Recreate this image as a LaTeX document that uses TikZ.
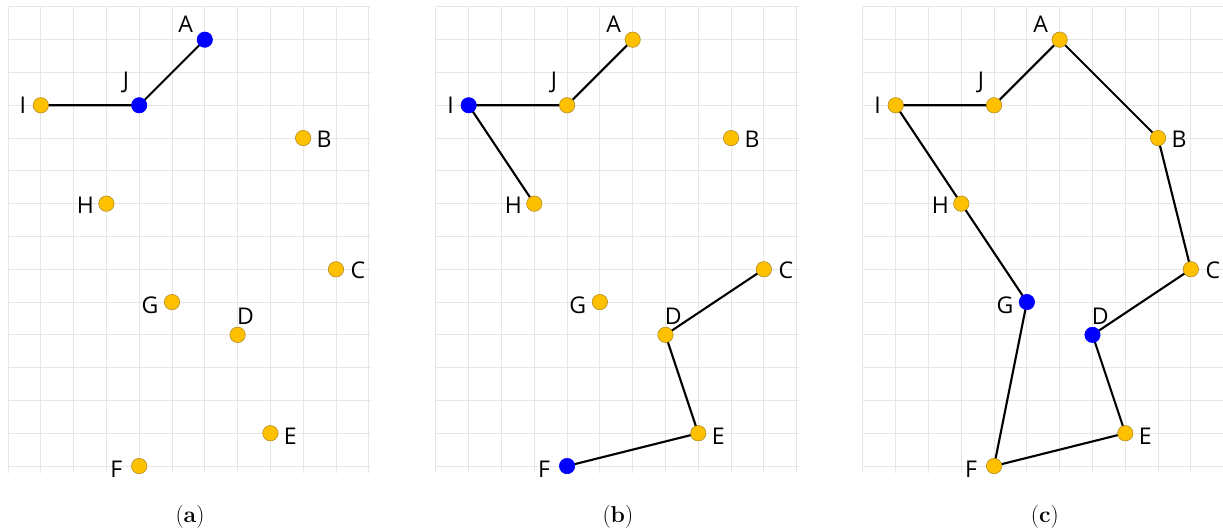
\documentclass[tikz,border=0pt]{standalone}
\usepackage{fontspec}
\newfontfamily\labelfont{Open Sans}
\usetikzlibrary{positioning}
\definecolor{gridgray}{HTML}{E6E6E6}
\definecolor{dotorange}{HTML}{FFC000}
\definecolor{dotedge}{HTML}{B08A20}
\definecolor{dotblue}{HTML}{0000FF}
% name/x/y/label dx/label dy, one cell = 1cm
\newcommand{\citylist}{A/6/13/-0.58/0.46, B/9/10/0.64/-0.03, C/10/6/0.67/-0.03,
  D/7/4/0.24/0.58, E/8/1/0.61/-0.09, F/4/0/-0.70/-0.09, G/5/5/-0.67/-0.09,
  H/3/8/-0.64/-0.06, I/1/11/-0.55/0, J/4/11/-0.40/0.70}
\tikzset{
  gridLine/.style={draw=gridgray, line width=0.7pt},
  tourEdge/.style={draw=black, line width=1.8pt, line join=round},
  cityDot/.style={circle, fill=dotorange, draw=dotedge, line width=0.5pt, inner sep=0pt, minimum size=0.47cm},
  visitDot/.style={cityDot, fill=dotblue, draw=dotblue},
  cityLabel/.style={font=\labelfont\fontsize{20}{24}\selectfont, inner sep=0pt},
  subCap/.style={font=\fontsize{20}{24}\selectfont},
  plainDot/.style={dot #1/.style={cityDot}},
  plainDot/.list={A,B,C,D,E,F,G,H,I,J},
  visited/.style={dot #1/.style={visitDot}}
}
\newcommand{\citypoints}{%
  \draw[gridLine, step=1] (0,-0.2) grid (11.06,14);
  \foreach \n/\x/\y/\dx/\dy in \citylist {\coordinate (\n) at (\x,\y);}}
\newcommand{\citydots}{%
  \foreach \n/\x/\y/\dx/\dy in \citylist {
    \node[dot \n] (\n dot) at (\n) {};
    \node[cityLabel] (\n lab) at ([shift={(\dx,\dy)}]\n) {\n};
  }}

\begin{document}
\begin{tikzpicture}[x=1cm,y=1cm]
  \useasboundingbox (0,0) rectangle (37.29,16.13);
  % (a)
  \begin{scope}[shift={(0.244,1.92)}, name prefix=pa-, visited/.list={A,J}]
    \citypoints
    \draw[tourEdge] (I) -- (J) -- (A);
    \citydots
    \node[subCap] (cap) at (5.55,-1.55) {(\textbf{a})};
  \end{scope}
  % (b)
  \begin{scope}[shift={(13.29,1.92)}, name prefix=pb-, visited/.list={I,F}]
    \citypoints
    \draw[tourEdge] (A) -- (J) -- (I) -- (H);
    \draw[tourEdge] (C) -- (D) -- (E) -- (F);
    \citydots
    \node[subCap] (cap) at (5.55,-1.55) {(\textbf{b})};
  \end{scope}
  % (c)
  \begin{scope}[shift={(26.31,1.92)}, name prefix=pc-, visited/.list={G,D}]
    \citypoints
    \draw[tourEdge] (A) -- (J) -- (I) -- (H) -- (G) -- (F) -- (E) -- (D) -- (C) -- (B) -- cycle;
    \citydots
    \node[subCap] (cap) at (5.55,-1.55) {(\textbf{c})};
  \end{scope}
\end{tikzpicture}
\end{document}
